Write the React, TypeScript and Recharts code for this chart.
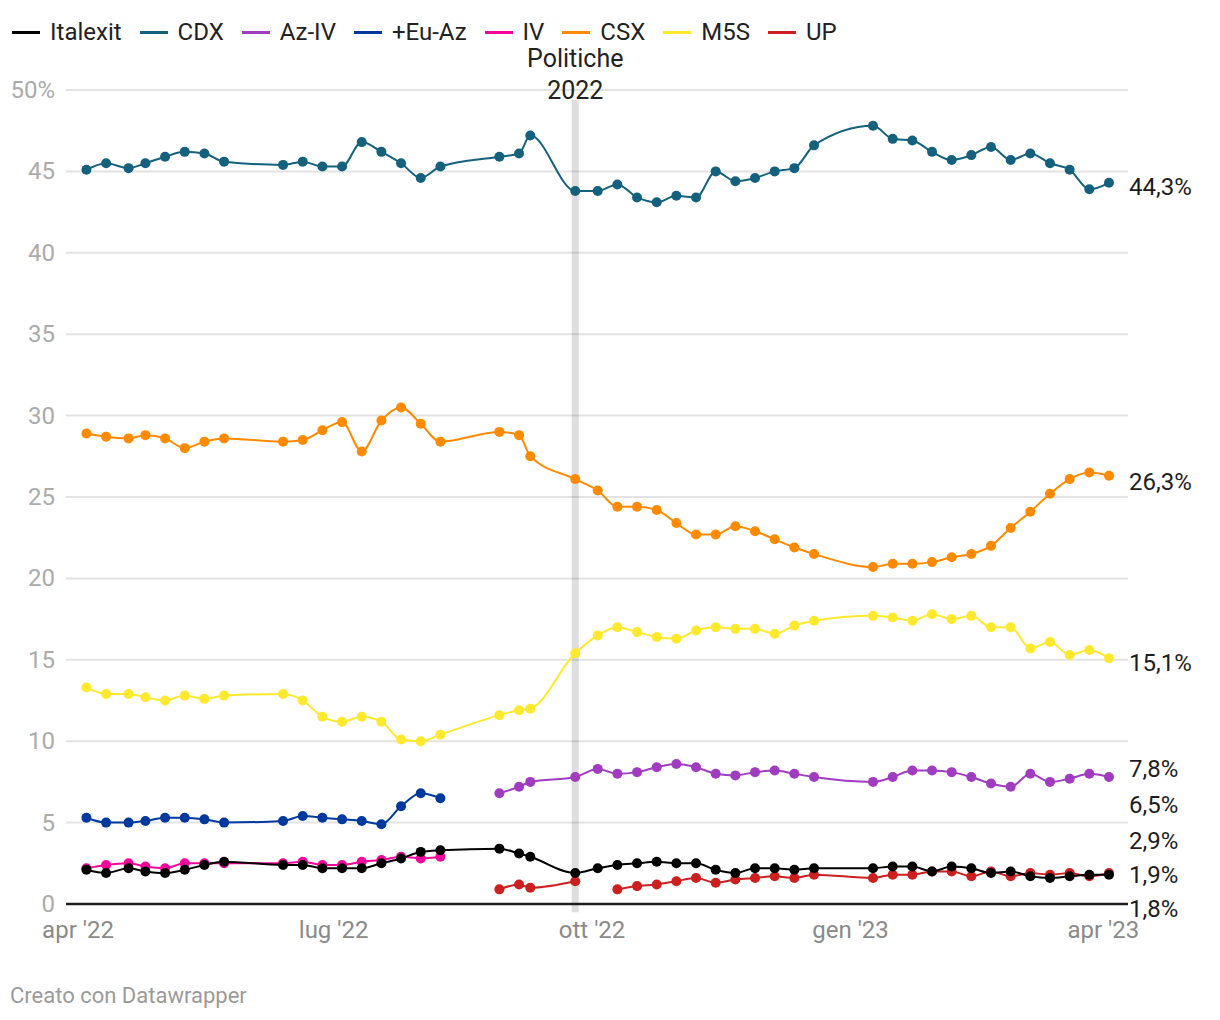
import { CartesianGrid, Line, LineChart, ReferenceDot, ReferenceLine, XAxis, YAxis } from 'recharts';

const dates = [
  '2022-04-04', '2022-04-11', '2022-04-19', '2022-04-25', '2022-05-02', '2022-05-09', '2022-05-16', '2022-05-23',
  '2022-06-13', '2022-06-20', '2022-06-27', '2022-07-04', '2022-07-11', '2022-07-18', '2022-07-25', '2022-08-01',
  '2022-08-08', '2022-08-29', '2022-09-05', '2022-09-09', '2022-09-25', '2022-10-03', '2022-10-10', '2022-10-17',
  '2022-10-24', '2022-10-31', '2022-11-07', '2022-11-14', '2022-11-21', '2022-11-28', '2022-12-05', '2022-12-12',
  '2022-12-19', '2023-01-09', '2023-01-16', '2023-01-23', '2023-01-30', '2023-02-06', '2023-02-13', '2023-02-20',
  '2023-02-27', '2023-03-06', '2023-03-13', '2023-03-20', '2023-03-27', '2023-04-03',
];

const _ = null;
const cdx = [
  45.1, 45.5, 45.2, 45.5, 45.9, 46.2, 46.1, 45.6, 45.4, 45.6, 45.3, 45.3, 46.8, 46.2, 45.5, 44.6, 45.3, 45.9, 46.1, 47.2,
  43.8, 43.8, 44.2, 43.4, 43.1, 43.5, 43.4, 45.0, 44.4, 44.6, 45.0, 45.2, 46.6,
  47.8, 47.0, 46.9, 46.2, 45.7, 46.0, 46.5, 45.7, 46.1, 45.5, 45.1, 43.9, 44.3,
];
const csx = [
  28.9, 28.7, 28.6, 28.8, 28.6, 28.0, 28.4, 28.6, 28.4, 28.5, 29.1, 29.6, 27.8, 29.7, 30.5, 29.5, 28.4, 29.0, 28.8, 27.5,
  26.1, 25.4, 24.4, 24.4, 24.2, 23.4, 22.7, 22.7, 23.2, 22.9, 22.4, 21.9, 21.5,
  20.7, 20.9, 20.9, 21.0, 21.3, 21.5, 22.0, 23.1, 24.1, 25.2, 26.1, 26.5, 26.3,
];
const m5s = [
  13.3, 12.9, 12.9, 12.7, 12.5, 12.8, 12.6, 12.8, 12.9, 12.5, 11.5, 11.2, 11.5, 11.2, 10.1, 10.0, 10.4, 11.6, 11.9, 12.0,
  15.4, 16.5, 17.0, 16.7, 16.4, 16.3, 16.8, 17.0, 16.9, 16.9, 16.6, 17.1, 17.4,
  17.7, 17.6, 17.4, 17.8, 17.5, 17.7, 17.0, 17.0, 15.7, 16.1, 15.3, 15.6, 15.1,
];
const aziv = [
  _, _, _, _, _, _, _, _, _, _, _, _, _, _, _, _, _, 6.8, 7.2, 7.5,
  7.8, 8.3, 8.0, 8.1, 8.4, 8.6, 8.4, 8.0, 7.9, 8.1, 8.2, 8.0, 7.8,
  7.5, 7.8, 8.2, 8.2, 8.1, 7.8, 7.4, 7.2, 8.0, 7.5, 7.7, 8.0, 7.8,
];
const euaz = [
  5.3, 5.0, 5.0, 5.1, 5.3, 5.3, 5.2, 5.0, 5.1, 5.4, 5.3, 5.2, 5.1, 4.9, 6.0, 6.8, 6.5, _, _, _,
  _, _, _, _, _, _, _, _, _, _, _, _, _,
  _, _, _, _, _, _, _, _, _, _, _, _, _,
];
const iv = [
  2.2, 2.4, 2.5, 2.3, 2.2, 2.5, 2.5, 2.5, 2.5, 2.6, 2.4, 2.4, 2.6, 2.7, 2.9, 2.8, 2.9, _, _, _,
  _, _, _, _, _, _, _, _, _, _, _, _, _,
  _, _, _, _, _, _, _, _, _, _, _, _, _,
];
const italexit = [
  2.1, 1.9, 2.2, 2.0, 1.9, 2.1, 2.4, 2.6, 2.4, 2.4, 2.2, 2.2, 2.2, 2.5, 2.8, 3.2, 3.3, 3.4, 3.1, 2.9,
  1.9, 2.2, 2.4, 2.5, 2.6, 2.5, 2.5, 2.1, 1.9, 2.2, 2.2, 2.1, 2.2,
  2.2, 2.3, 2.3, 2.0, 2.3, 2.2, 1.9, 2.0, 1.7, 1.6, 1.7, 1.8, 1.8,
];
const up = [
  _, _, _, _, _, _, _, _, _, _, _, _, _, _, _, _, _, 0.9, 1.2, 1.0,
  1.4, _, 0.9, 1.1, 1.2, 1.4, 1.6, 1.3, 1.5, 1.6, 1.7, 1.6, 1.8,
  1.6, 1.8, 1.8, 2.0, 2.0, 1.7, 2.0, 1.7, 1.9, 1.8, 1.9, 1.7, 1.9,
];

const xTickDates = ['2022-04-01', '2022-07-01', '2022-10-01', '2023-01-01', '2023-04-01'];
const xTickLabels = ["apr '22", "lug '22", "ott '22", "gen '23", "apr '23"];
const yTicks = [0, 5, 10, 15, 20, 25, 30, 35, 40, 45, 50];
const electionDate = '2022-09-25';

const series = [
  { key: 'Italexit', values: italexit, color: '#000000', labelDy: 33 },
  { key: 'CDX', values: cdx, color: '#15617d', labelDy: 3 },
  { key: 'Az-IV', values: aziv, color: '#a03cc0', labelDy: -9 },
  { key: '+Eu-Az', values: euaz, color: '#00399e', labelDy: 6 },
  { key: 'IV', values: iv, color: '#f5049c', labelDy: -17 },
  { key: 'CSX', values: csx, color: '#ff8a00', labelDy: 5 },
  { key: 'M5S', values: m5s, color: '#ffe92e', labelDy: 4 },
  { key: 'UP', values: up, color: '#cc1f1f', labelDy: 1 },
];

const toT = (d: string) => new Date(d + 'T00:00:00Z').getTime();

const data = dates.map((d, i) => {
  const row: Record<string, number | null> = { t: toT(d) };
  series.forEach((s) => {
    row[s.key] = s.values[i];
  });
  return row;
});

const xTicks = xTickDates.map(toT);
const lastT = toT(dates[dates.length - 1]);
const electionT = toT(electionDate);
const FONT = 'Roboto, "Noto Sans", sans-serif';
const FS = 24;

const lastValue = (vals: (number | null)[]) => {
  for (let i = vals.length - 1; i >= 0; i--) if (vals[i] != null) return vals[i] as number;
  return 0;
};

function XTick({ x, y, payload }: any) {
  const idx = xTicks.indexOf(payload.value);
  return (
    <text x={x} y={y} dy={34} textAnchor="middle" fill="#8a8a8a" fontSize={FS} fontFamily={FONT}>
      {xTickLabels[idx]}
    </text>
  );
}

function YTick({ x, y, payload }: any) {
  return (
    <text x={x} y={y} dy={8} textAnchor="end" fill="#ababab" fontSize={FS} fontFamily={FONT}>
      {payload.value === 50 ? '50%' : payload.value}
    </text>
  );
}

export default function App() {
  return (
    <div style={{ position: 'absolute', left: 0, top: 0, width: 1220, height: 1020, background: '#fff', fontFamily: FONT }}>
      <div
        style={{
          position: 'absolute',
          left: 12,
          top: 18,
          display: 'flex',
          alignItems: 'center',
          fontSize: FS,
          lineHeight: '28px',
          color: '#222',
        }}
      >
        {series.map((s) => (
          <div key={s.key} style={{ display: 'flex', alignItems: 'center', marginRight: 18 }}>
            <span style={{ display: 'inline-block', width: 28, height: 3, background: s.color, marginRight: 10 }} />
            <span>{s.key}</span>
          </div>
        ))}
      </div>

      <div style={{ position: 'absolute', left: 0, top: 0 }}>
        <LineChart width={1220} height={960} data={data} margin={{ top: 90, right: 92, bottom: 16, left: 0 }}>
          <CartesianGrid vertical={false} stroke="#e3e3e3" strokeWidth={2} />
          <XAxis
            dataKey="t"
            type="number"
            scale="time"
            domain={[xTicks[0], lastT]}
            ticks={xTicks}
            padding={{ left: 12, right: 19 }}
            height={40}
            tickSize={0}
            tickMargin={0}
            tickLine={false}
            axisLine={{ stroke: '#1d1d1d', strokeWidth: 2.5 }}
            tick={<XTick />}
          />
          <YAxis
            type="number"
            domain={[0, 50]}
            ticks={yTicks}
            width={66}
            tickSize={0}
            tickMargin={11}
            tickLine={false}
            axisLine={false}
            tick={<YTick />}
          />
          <ReferenceLine
            segment={[
              { x: electionT, y: -0.5 },
              { x: electionT, y: 49.4 },
            ]}
            stroke="rgba(0,0,0,0.13)"
            strokeWidth={7}
            ifOverflow="visible"
            label={(p: any) => (
              <g>
                <text x={p.viewBox.x} y={p.viewBox.y - 33} textAnchor="middle" fill="#222" fontSize={25} fontFamily={FONT}>
                  Politiche
                </text>
                <text x={p.viewBox.x} y={p.viewBox.y - 1} textAnchor="middle" fill="#222" fontSize={25} fontFamily={FONT}>
                  2022
                </text>
              </g>
            )}
          />
          {[...series].reverse().map((s) => (
            <Line
              key={s.key}
              dataKey={s.key}
              type="monotone"
              stroke={s.color}
              strokeWidth={2}
              dot={{ r: 5, fill: s.color, strokeWidth: 0 }}
              activeDot={false}
              connectNulls={false}
              isAnimationActive={false}
            />
          ))}
          {series.map((s) => {
            const v = lastValue(s.values);
            return (
              <ReferenceDot
                key={'lbl-' + s.key}
                x={lastT}
                y={v}
                r={1}
                fill="none"
                stroke="none"
                ifOverflow="visible"
                label={(p: any) => (
                  <text
                    x={p.viewBox.x + 21}
                    y={p.viewBox.y + 1 + s.labelDy}
                    dy={9}
                    textAnchor="start"
                    fill="#1d1d1d"
                    fontSize={FS}
                    fontFamily={FONT}
                  >
                    {v.toFixed(1).replace('.', ',') + '%'}
                  </text>
                )}
              />
            );
          })}
        </LineChart>
      </div>

      <div style={{ position: 'absolute', left: 10, top: 983, fontSize: 22, color: '#9a9a9a' }}>Creato con Datawrapper</div>
    </div>
  );
}
